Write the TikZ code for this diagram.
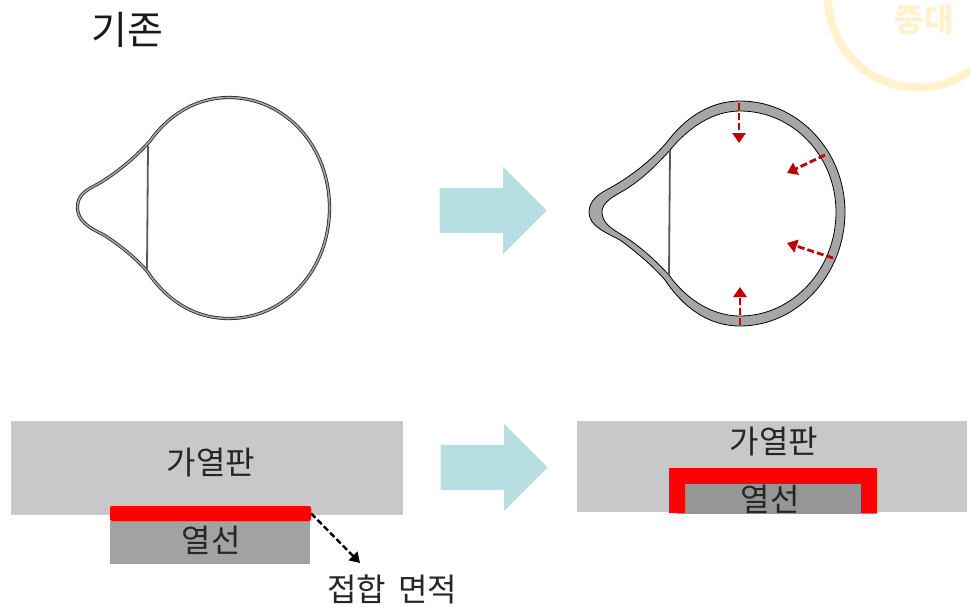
\documentclass[tikz,border=0pt]{standalone}
\usepackage{fontspec}
\setmainfont{Noto Sans CJK KR}
\usepackage{tikz}
\usetikzlibrary{arrows.meta, shapes.arrows}
\definecolor{platecol}{HTML}{C8C8C8}
\definecolor{wirecol}{HTML}{A2A2A2}
\definecolor{wirecoltwo}{HTML}{969696}
\definecolor{tubecol}{HTML}{A6A6A6}
\definecolor{bigarrowcol}{HTML}{B7DEE1}
\definecolor{pushcol}{HTML}{C00000}
\definecolor{markcol}{HTML}{FFF2CC}
\tikzset{
  box/.style={rectangle, inner sep=0pt, draw=none},
  word/.style={inner sep=0pt, font=\fontsize{32}{32}\selectfont, text=black!85},
  bigarrow/.style={single arrow, fill=bigarrowcol, draw=none, inner sep=22.5pt, minimum height=107pt, single arrow tip angle=90, single arrow head extend=21pt, single arrow head indent=0pt, anchor=tip},
  push/.style={draw=pushcol, line width=2.8pt, dash pattern=on 7pt off 3pt, -{Triangle[length=10pt,width=13pt]}},
}
\begin{document}
\begin{tikzpicture}[x=1pt, y=-1pt]
      \clip (0,0) rectangle (970,606);
      \fill[white] (0,0) rectangle (970,606);
      \draw[markcol, line width=8pt] (918,-2.5) circle (90pt);
      \node[inner sep=0pt, text=markcol, font=\fontsize{32}{32}\bfseries\selectfont] (mark) at (924,20) {중대};
      \node[inner sep=0pt, font=\fontsize{39}{39}\selectfont, text=black!90] (old) at (127,30) {기존};

      \draw[draw=black!85, line width=0.8pt, double=tubecol, double distance=1.6pt]
        (229,97.5) .. controls (285,97.5) and (329.5,146) .. (329.5,208)
        .. controls (329.5,270) and (285,318.5) .. (229,318.5)
        .. controls (192,318.5) and (165,298) .. (147,271)
        .. controls (133,255) and (115,242) .. (104,235)
        .. controls (90,228) and (77.5,222) .. (77.5,207)
        .. controls (77.5,195) and (86,190) .. (98,184)
        .. controls (115,174) and (135,158) .. (150,141)
        .. controls (170,113) and (198,97.5) .. (229,97.5) -- cycle;
      \coordinate (oldtop) at (148,146);
      \coordinate (oldbot) at (147,270);
      \draw[black!65, line width=1.8pt] (oldtop)--(oldbot);

      \draw[black, line width=0.8pt, fill=tubecol]
        (740,101) .. controls (798,101) and (845,151) .. (845,212)
        .. controls (845,274) and (798,326) .. (740,326)
        .. controls (708,326) and (683,307) .. (665,280)
        .. controls (652,265) and (635,251) .. (620,240)
        .. controls (605,232) and (589,226) .. (589,212)
        .. controls (589,200) and (600,193) .. (610,188)
        .. controls (630,177) and (652,160) .. (667,142)
        .. controls (685,118) and (710,101) .. (740,101) -- cycle;
      \draw[black, line width=0.8pt, fill=white]
        (740,111) .. controls (793,111) and (836,156) .. (836,212)
        .. controls (836,269) and (793,316) .. (740,316)
        .. controls (712,316) and (686,299) .. (669,275)
        .. controls (655,260) and (640,246) .. (622,235)
        .. controls (612,229) and (602,223) .. (602,212)
        .. controls (602,203) and (612,197) .. (623,191)
        .. controls (640,181) and (656,166) .. (670,150)
        .. controls (690,126) and (714,111) .. (740,111) -- cycle;
      \coordinate (newtop) at (670,150);
      \coordinate (newbot) at (669,275);
      \draw[black!65, line width=1.8pt] (newtop)--(newbot);

      \coordinate (a1) at (739,103);
      \coordinate (a2) at (739,143);
      \coordinate (b1) at (825,155);
      \coordinate (b2) at (787,173);
      \coordinate (c1) at (833,258);
      \coordinate (c2) at (787,243);
      \coordinate (d1) at (740,325);
      \coordinate (d2) at (740,287);
      \draw[push] (a1)--(a2);
      \draw[push] (b1)--(b2);
      \draw[push] (c1)--(c2);
      \draw[push] (d1)--(d2);

      \node[bigarrow] (arrowa) at (547,210.5) {};
      \node[bigarrow] (arrowb) at (548,467.5) {};

      \node[box, fill=platecol, minimum width=392pt, minimum height=94pt] (platea) at (207,468) {};
      \node[box, fill=wirecol, minimum width=200pt, minimum height=43pt] (wirea) at (210,542.5) {};
      \node[box, fill=red, rounded corners=2pt, minimum width=201pt, minimum height=15pt] (reda) at (210.5,513.5) {};
      \node[word] (labelplatea) at (211,462) {가열판};
      \node[word] (labelwirea) at (211,540) {열선};
      \node[word] (labelarea) at (392,589) {접합\hspace{5pt} 면적};
      \coordinate (areatip) at (360,563);
      \draw[black, line width=2.4pt, dash pattern=on 6pt off 3pt, -{Triangle[length=10pt,width=12pt]}] (reda.east)--(areatip);

      \node[box, fill=platecol, minimum width=390pt, minimum height=91pt] (plateb) at (772,466.5) {};
      \node[box, fill=wirecoltwo, minimum width=200pt, minimum height=30pt] (wireb) at (777,499) {};
      \node[box, fill=red, minimum width=208pt, minimum height=16pt] (redtop) at (773,476) {};
      \node[box, fill=red, minimum width=16pt, minimum height=45pt] (redleft) at (677,490.5) {};
      \node[box, fill=red, minimum width=16pt, minimum height=45pt] (redright) at (869,490.5) {};
      \node[word] (labelplateb) at (774,441) {가열판};
      \node[word] (labelwireb) at (770,499) {열선};
\end{tikzpicture}
\end{document}
